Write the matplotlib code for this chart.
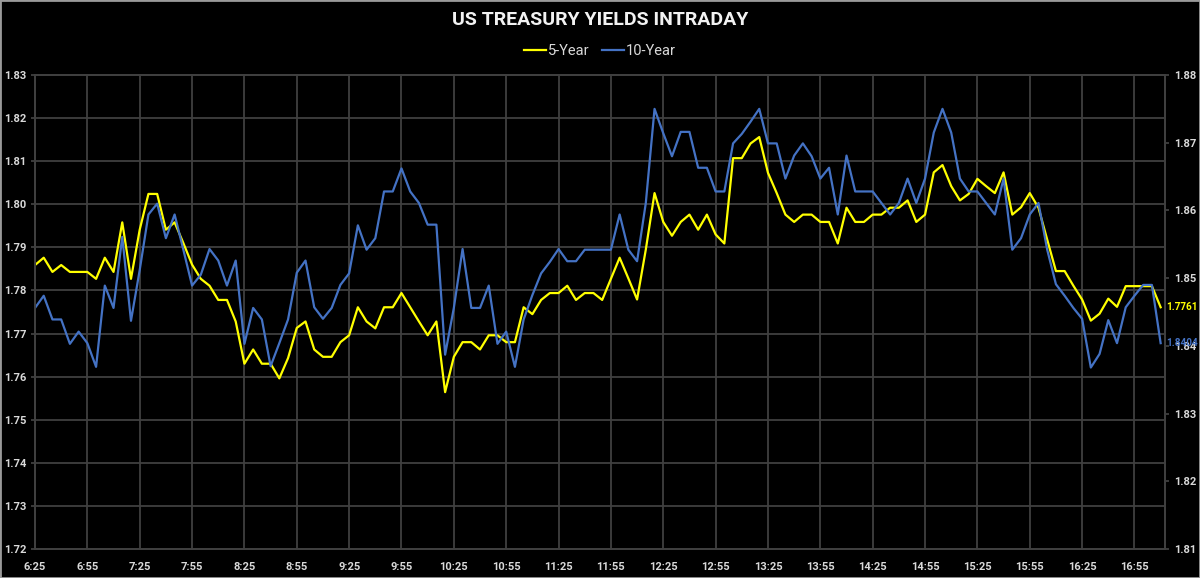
import matplotlib.pyplot as plt
from matplotlib.patches import Rectangle
from matplotlib.ticker import FormatStrFormatter

# x axis: 5-minute bars from 6:25, labelled every 30 minutes
tick_labels = ["6:25", "6:55", "7:25", "7:55", "8:25", "8:55", "9:25", "9:55",
               "10:25", "10:55", "11:25", "11:55", "12:25", "12:55", "13:25",
               "13:55", "14:25", "14:55", "15:25", "15:55", "16:25", "16:55"]

# 5-year yield (left axis)
yr5 = [1.7859, 1.7876, 1.7843, 1.7859, 1.7843, 1.7843, 1.7843, 1.7827, 1.7876, 1.7843,
       1.7958, 1.7827, 1.7941, 1.8024, 1.8024, 1.7941, 1.7958, 1.7910, 1.7860, 1.7827,
       1.7811, 1.7778, 1.7778, 1.7728, 1.7630, 1.7663, 1.7630, 1.7630, 1.7596, 1.7643,
       1.7713, 1.7728, 1.7663, 1.7646, 1.7646, 1.7680, 1.7696, 1.7761, 1.7728, 1.7712,
       1.7761, 1.7761, 1.7794, 1.7761, 1.7728, 1.7696, 1.7728, 1.7564, 1.7646, 1.7680,
       1.7680, 1.7663, 1.7696, 1.7696, 1.7680, 1.7680, 1.7761, 1.7745, 1.7778, 1.7794,
       1.7794, 1.7811, 1.7778, 1.7794, 1.7794, 1.7778, 1.7827, 1.7876, 1.7828, 1.7779,
       1.7895, 1.8026, 1.7959, 1.7927, 1.7959, 1.7976, 1.7941, 1.7976, 1.7930, 1.7909,
       1.8107, 1.8107, 1.8141, 1.8156, 1.8073, 1.8026, 1.7976, 1.7959, 1.7976, 1.7976,
       1.7959, 1.7959, 1.7909, 1.7992, 1.7959, 1.7959, 1.7976, 1.7976, 1.7992, 1.7992,
       1.8009, 1.7959, 1.7976, 1.8074, 1.8091, 1.8042, 1.8009, 1.8024, 1.8059, 1.8042,
       1.8026, 1.8074, 1.7976, 1.7993, 1.8026, 1.7992, 1.7918, 1.7845, 1.7845, 1.7811,
       1.7779, 1.7730, 1.7746, 1.7781, 1.7762, 1.7810, 1.7810, 1.7810, 1.7810, 1.7761]

# 10-year yield (right axis)
yr10 = [1.8456, 1.8474, 1.8439, 1.8439, 1.8403, 1.8421, 1.8404, 1.8369, 1.8489, 1.8456,
        1.8561, 1.8437, 1.8512, 1.8594, 1.8610, 1.8559, 1.8594, 1.8542, 1.8489, 1.8505,
        1.8543, 1.8526, 1.8489, 1.8526, 1.8403, 1.8456, 1.8439, 1.8370, 1.8404, 1.8439,
        1.8508, 1.8526, 1.8457, 1.8440, 1.8456, 1.8490, 1.8507, 1.8578, 1.8542, 1.8559,
        1.8628, 1.8628, 1.8662, 1.8628, 1.8611, 1.8579, 1.8579, 1.8387, 1.8456, 1.8543,
        1.8456, 1.8456, 1.8489, 1.8403, 1.8421, 1.8369, 1.8439, 1.8475, 1.8507, 1.8524,
        1.8543, 1.8525, 1.8525, 1.8542, 1.8542, 1.8542, 1.8542, 1.8594, 1.8542, 1.8525,
        1.8611, 1.8750, 1.8714, 1.8680, 1.8716, 1.8716, 1.8663, 1.8663, 1.8628, 1.8628,
        1.8699, 1.8713, 1.8731, 1.8750, 1.8699, 1.8699, 1.8647, 1.8681, 1.8699, 1.8680,
        1.8647, 1.8663, 1.8594, 1.8681, 1.8628, 1.8628, 1.8628, 1.8611, 1.8594, 1.8611,
        1.8647, 1.8611, 1.8647, 1.8715, 1.8750, 1.8715, 1.8647, 1.8628, 1.8628, 1.8611,
        1.8594, 1.8647, 1.8542, 1.8559, 1.8594, 1.8611, 1.8542, 1.8491, 1.8474, 1.8456,
        1.8440, 1.8368, 1.8388, 1.8438, 1.8404, 1.8457, 1.8474, 1.8490, 1.8490, 1.8404]

plt.rcParams['font.family'] = ['Roboto', 'DejaVu Sans']

yellow = '#FFFF00'
blue = '#4472C4'
gridc = '#404040'
txt = '#D9D9D9'

fig = plt.figure(figsize=(12, 5.78), dpi=100, facecolor='black')
ax = fig.add_axes([35 / 1200, 29 / 578, 1130 / 1200, 474 / 578])
ax.set_facecolor('black')
ax2 = ax.twinx()

x = list(range(len(yr5)))
l1, = ax.plot(x, yr5, color=yellow, lw=1.6, label='5-Year')
l2, = ax2.plot(x, yr10, color=blue, lw=1.6, label='10-Year')

ax.set_xlim(0, 129.5)
ax.set_ylim(1.72, 1.83)
ax2.set_ylim(1.81, 1.88)
ax.set_yticks([1.72 + 0.01 * k for k in range(12)])
ax2.set_yticks([1.81 + 0.01 * k for k in range(8)])
ax.yaxis.set_major_formatter(FormatStrFormatter('%.2f'))
ax2.yaxis.set_major_formatter(FormatStrFormatter('%.2f'))
ax.set_xticks(range(0, 6 * len(tick_labels), 6))
ax.set_xticklabels(tick_labels)

ax.grid(True, color=gridc, lw=1.3)
ax.set_axisbelow(True)
for a in (ax, ax2):
    for s in a.spines.values():
        s.set_color(gridc)
        s.set_linewidth(1.3)
ax.tick_params(axis='y', colors=gridc, labelcolor=txt, labelsize=8, length=3, width=1.3, pad=3)
ax2.tick_params(axis='y', colors=gridc, labelcolor=txt, labelsize=8, length=3, width=1.3, pad=3.5)
ax.tick_params(axis='x', length=0, labelcolor=txt, labelsize=8, pad=9)
for lab in ax.get_xticklabels() + ax.get_yticklabels() + ax2.get_yticklabels():
    lab.set_fontweight('bold')

# last values at the right edge
ax.text(1.001, yr5[-1], f'{yr5[-1]:.4f}', transform=ax.get_yaxis_transform(),
        color=yellow, fontsize=7.2, fontweight='bold', va='center', ha='left', clip_on=False)
ax2.text(1.001, yr10[-1], f'{yr10[-1]:.4f}', transform=ax2.get_yaxis_transform(),
         color=blue, fontsize=7.2, fontweight='bold', va='center', ha='left', clip_on=False)

fig.text(0.5, 1 - 20 / 578, 'US TREASURY YIELDS INTRADAY', ha='center', va='center',
         color='#F2F2F2', fontsize=14, fontweight='bold')
fig.legend([l1, l2], ['5-Year', '10-Year'], loc='center', bbox_to_anchor=(0.5, 1 - 51 / 578),
           ncol=2, frameon=False, fontsize=10.5, labelcolor=txt, handlelength=1.5,
           handletextpad=0.1, columnspacing=0.9)

fig.add_artist(Rectangle((0, 0), 1, 1, transform=fig.transFigure, fill=False,
                         edgecolor='#9A9A9A', lw=2))

fig.savefig('out.png', dpi=100, facecolor='black')
